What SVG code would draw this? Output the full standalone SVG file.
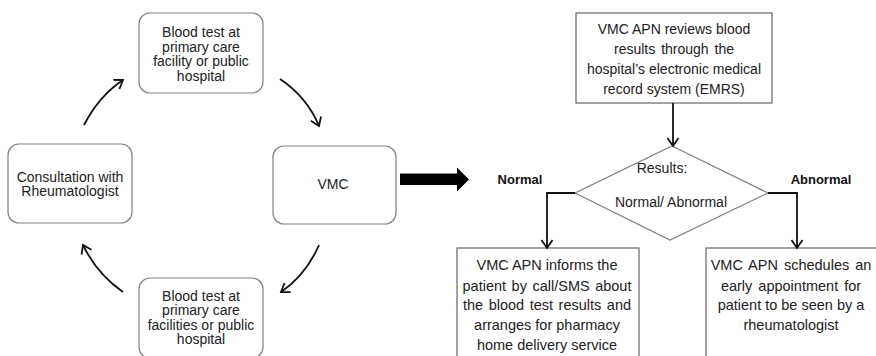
<svg xmlns="http://www.w3.org/2000/svg" width="876" height="356" viewBox="0 0 876 356">
<style>
.rb{fill:#fff;stroke:#808080;stroke-width:1.2}
.sb{fill:#fff;stroke:#666;stroke-width:1.2}
.t{font-family:"Liberation Sans",Arial,sans-serif;font-size:14px;fill:#222;text-anchor:middle}
.t2{font-family:"Liberation Sans",Arial,sans-serif;font-size:14px;fill:#222;text-anchor:middle}
.t3{font-family:"Liberation Sans",Arial,sans-serif;font-size:14.5px;fill:#222;text-anchor:middle}
.b{font-family:"Liberation Sans",Arial,sans-serif;font-size:13px;font-weight:bold;fill:#111;text-anchor:middle}
.c{fill:none;stroke:#111;stroke-width:1.8}
</style>
<defs>
<marker id="ah" markerUnits="userSpaceOnUse" markerWidth="14" markerHeight="14" viewBox="-10 -7 12 14" refX="0" refY="0" orient="auto">
<path d="M-8,-5.5 L0,0 L-8,5.5" fill="none" stroke="#111" stroke-width="1.8"/>
</marker>
</defs>
<rect width="876" height="356" fill="#fff"/>
<g id="blood-top">
<rect class="rb" x="139" y="13" width="124" height="80" rx="11"/>
<text class="t" x="201" y="37">Blood test at</text>
<text class="t" x="201" y="51.5">primary care</text>
<text class="t" x="201" y="66">facility or public</text>
<text class="t" x="201" y="80.5">hospital</text>
</g>
<g id="consultation">
<rect class="rb" x="8" y="144" width="124" height="79" rx="11"/>
<text class="t" x="70" y="181.5">Consultation with</text>
<text class="t" x="70" y="196">Rheumatologist</text>
</g>
<g id="vmc">
<rect class="rb" x="273" y="146" width="123" height="78" rx="11"/>
<text class="t2" x="333" y="189">VMC</text>
</g>
<g id="blood-bottom">
<rect class="rb" x="139" y="278" width="124" height="80" rx="11"/>
<text class="t" x="201" y="300.5">Blood test at</text>
<text class="t" x="201" y="315">primary care</text>
<text class="t" x="201" y="329.5">facilities or public</text>
<text class="t" x="201" y="344">hospital</text>
</g>
<g id="review">
<rect class="sb" x="576" y="13" width="196" height="90"/>
<text class="t2" x="674" y="34">VMC APN reviews blood</text>
<text class="t2" x="674" y="54" word-spacing="2">results through the</text>
<text class="t2" x="674" y="74">hospital’s electronic medical</text>
<text class="t2" x="674" y="94">record system (EMRS)</text>
</g>
<g id="decision">
<polygon points="672,146 768,193 670,240 575,193" fill="#fff" stroke="#808080" stroke-width="1.2"/>
<text class="t2" x="662" y="173">Results:</text>
<text class="t2" x="671" y="207">Normal/ Abnormal</text>
</g>
<g id="normal-box">
<rect class="sb" x="457" y="248" width="182" height="115"/>
<text class="t3" x="547" y="270">VMC APN informs the</text>
<text class="t3" x="547" y="290.5" word-spacing="1.5">patient by call/SMS about</text>
<text class="t3" x="547" y="310" word-spacing="1.5">the blood test results and</text>
<text class="t3" x="547" y="330">arranges  for pharmacy</text>
<text class="t3" x="547" y="350">home delivery service</text>
</g>
<g id="abnormal-box">
<rect class="sb" x="706" y="248" width="175" height="115"/>
<text class="t3" x="791" y="270" word-spacing="2">VMC APN schedules an</text>
<text class="t3" x="791" y="290.5" word-spacing="2">early appointment for</text>
<text class="t3" x="791" y="310">patient to be seen by a</text>
<text class="t3" x="791" y="330">rheumatologist</text>
</g>
<g id="labels">
<text class="b" x="520" y="184">Normal</text>
<text class="b" x="821" y="184">Abnormal</text>
</g>
<g id="connectors">
<path class="c" d="M84,125 Q99,96 123,80" marker-end="url(#ah)"/>
<path class="c" d="M280,79 Q307,97 319,126" marker-end="url(#ah)"/>
<path class="c" d="M319,245 Q306,275 281,292" marker-end="url(#ah)"/>
<path class="c" d="M123,292 Q97,274 83,245" marker-end="url(#ah)"/>
<polygon points="400,173.5 457,173.5 457,167.5 469,179.5 457,191.5 457,185 400,185" fill="#000"/>
<path class="c" d="M673,103 L673,146" marker-end="url(#ah)"/>
<path class="c" d="M575,193 L547,193 L547,248" marker-end="url(#ah)"/>
<path class="c" d="M768,193 L797,193 L797,248" marker-end="url(#ah)"/>
</g>
</svg>
